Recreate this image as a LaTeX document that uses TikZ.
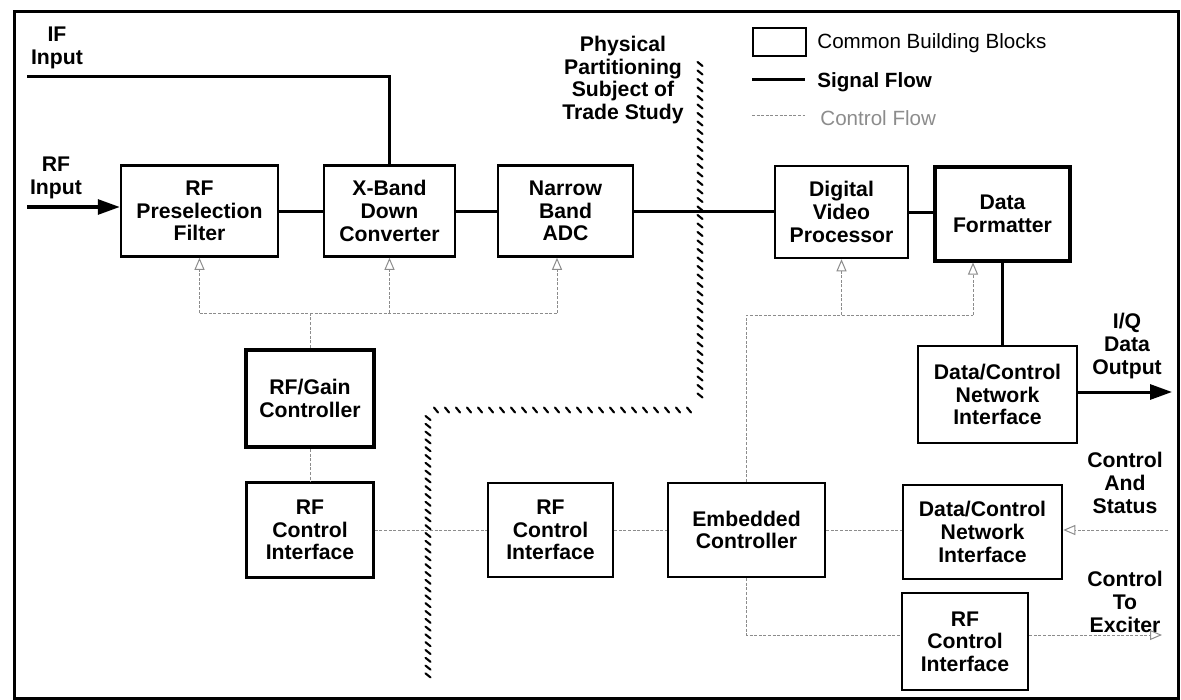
\documentclass[tikz,border=0pt]{standalone}
\usepackage{fontspec}
\setmainfont{Liberation Sans}
\usetikzlibrary{arrows.meta,calc}
\definecolor{ctlgray}{RGB}{140,140,140}
\begin{document}
\begin{tikzpicture}[x=0.5pt,y=-0.5pt,
  txt/.style={font=\bfseries\fontsize{10.6}{11.3}\selectfont, align=center, inner sep=0pt},
  blk/.style={draw, line width=1.25pt, inner sep=0pt, txt},
  thickblk/.style={blk, line width=2pt},
  sig/.style={line width=1.5pt},
  sigtip/.style={-{Triangle[length=11pt,width=7.5pt]}},
  ctl/.style={draw=ctlgray, line width=0.5pt, dash pattern=on 1.5pt off 0.8pt},
  ctltip/.style={-{Triangle[open,length=6pt,width=5pt]}},
  sq/.style={line width=1.05pt, line cap=round},
  lbl/.style={txt}
]
\useasboundingbox (0,0) rectangle (1181,700);
\draw[line width=1.5pt] (14,12) rectangle (1178,698);

% blocks
\node[blk, minimum width=78.5pt, minimum height=45.5pt] (rfpre) at (199.5,211) {RF\\Preselection\\Filter};
\node[blk, minimum width=65.5pt, minimum height=45.5pt] (xband) at (389.5,211) {X-Band\\Down\\Converter};
\node[blk, minimum width=67.5pt, minimum height=45.5pt] (adc) at (565.5,211) {Narrow\\Band\\ADC};
\node[blk, minimum width=66.5pt, minimum height=46pt] (dvp) at (841.5,212) {Digital\\Video\\Processor};
\node[thickblk, minimum width=67.5pt, minimum height=46.5pt] (df) at (1002.5,214) {Data\\Formatter};
\node[thickblk, minimum width=64pt, minimum height=48.5pt] (gain) at (310,398.5) {RF/Gain\\Controller};
\node[blk, minimum width=63.5pt, minimum height=47.5pt] (rfci1) at (310,530) {RF\\Control\\Interface};
\node[blk, minimum width=62.5pt, minimum height=47pt] (rfci2) at (550.5,530) {RF\\Control\\Interface};
\node[blk, minimum width=78.5pt, minimum height=47pt] (emb) at (746.5,530) {Embedded\\Controller};
\node[blk, minimum width=79.5pt, minimum height=48.5pt] (dcni1) at (997.5,394.5) {Data/Control\\Network\\Interface};
\node[blk, minimum width=79.5pt, minimum height=47pt] (dcni2) at (982.5,532) {Data/Control\\Network\\Interface};
\node[blk, minimum width=63pt, minimum height=48.5pt] (rfci3) at (965,641.5) {RF\\Control\\Interface};

% labels
\node[lbl] (iflbl) at (57,48) {IF\\Input};
\node[lbl] (rflbl) at (56,178) {RF\\Input};
\node[lbl] (phys) at (623,80) {Physical\\Partitioning\\Subject of\\Trade Study};
\node[lbl] (iqlbl) at (1127,346) {I/Q\\Data\\Output};
\node[lbl] (caslbl) at (1125,483) {Control\\And\\Status};
\node[lbl] (exclbl) at (1125,602) {Control\\To\\Exciter};

% signal flow
\coordinate (ifin) at (27,77);
\coordinate (rfin) at (27,207);
\coordinate (iqout) at (1172,392);
\draw[sig] (ifin) -- (ifin -| xband.north) -- (xband.north);
\draw[sig, sigtip] (rfin) -- (rfin -| rfpre.west);
\draw[sig] (rfpre.east) -- (xband.west);
\draw[sig] (xband.east) -- (adc.west);
\draw[sig] (adc.east) -- (adc.east -| dvp.west);
\draw[sig] (dvp.east) -- (dvp.east -| df.west);
\draw[sig] (df.south) -- (df.south |- dcni1.north);
\draw[sig, sigtip] (dcni1.east |- iqout) -- (iqout);

% control flow
\coordinate (b1) at (199.5,313);
\coordinate (adcin) at ($(adc.south)+(-8.5,0)$);
\draw[ctl] (rfpre.south |- b1) -- (adcin |- b1);
\draw[ctl, ctltip] (rfpre.south |- b1) -- (rfpre.south);
\draw[ctl, ctltip] (xband.south |- b1) -- (xband.south);
\draw[ctl, ctltip] (adcin |- b1) -- (adcin);
\draw[ctl] (gain.north) -- (gain.north |- b1);
\draw[ctl] (gain.south) -- (rfci1.north);
\draw[ctl] (rfci1.east) -- (rfci2.west);
\draw[ctl] (rfci2.east) -- (emb.west);
\draw[ctl] (emb.east) -- (emb.east -| dcni2.west);
\coordinate (b2) at (746.5,315);
\coordinate (dfin) at ($(df.south)+(-29.5,0)$);
\draw[ctl] (emb.north) -- (emb.north |- b2) -- (dfin |- b2);
\draw[ctl, ctltip] (dvp.south |- b2) -- (dvp.south);
\draw[ctl, ctltip] (dfin |- b2) -- (dfin);
\coordinate (b3) at (746.5,635);
\draw[ctl] (emb.south) -- (b3) -- (b3 -| rfci3.west);
\coordinate (exc) at (1162,635);
\draw[ctl, ctltip] (b3 -| rfci3.east) -- (exc);
\coordinate (cas) at (1168,530);
\draw[ctl, ctltip] (cas) -- (cas -| dcni2.east);

% partition line
\foreach \y in {64,72.5,...,402} \draw[sq] ({697.5},{\y-2}) -- ({702.5},{\y+2});
\foreach \x in {436,447,...,696} \draw[sq] ({\x-2},{407.5}) -- ({\x+2},{412.5});
\foreach \y in {418,425.8,...,682} \draw[sq] ({425.5},{\y-2}) -- ({430.5},{\y+2});

% legend
\node[draw, line width=1pt, minimum width=26.5pt, minimum height=14pt, inner sep=0pt] (lgbox) at (779,42.5) {};
\node[anchor=west, inner sep=0pt, font=\fontsize{10.3}{12}\selectfont] (lgt1) at (817,43) {Common Building Blocks};
\coordinate (ls1) at (752,80);
\coordinate (ls2) at (805,80);
\draw[sig] (ls1) -- (ls2);
\node[anchor=west, inner sep=0pt, font=\bfseries\fontsize{10.3}{12}\selectfont] (lgt2) at (817,82) {Signal Flow};
\coordinate (lc1) at (752,116);
\coordinate (lc2) at (805,116);
\draw[ctl] (lc1) -- (lc2);
\node[anchor=west, inner sep=0pt, text=ctlgray, font=\fontsize{10.3}{12}\selectfont] (lgt3) at (820,118) {Control Flow};
\end{tikzpicture}
\end{document}
